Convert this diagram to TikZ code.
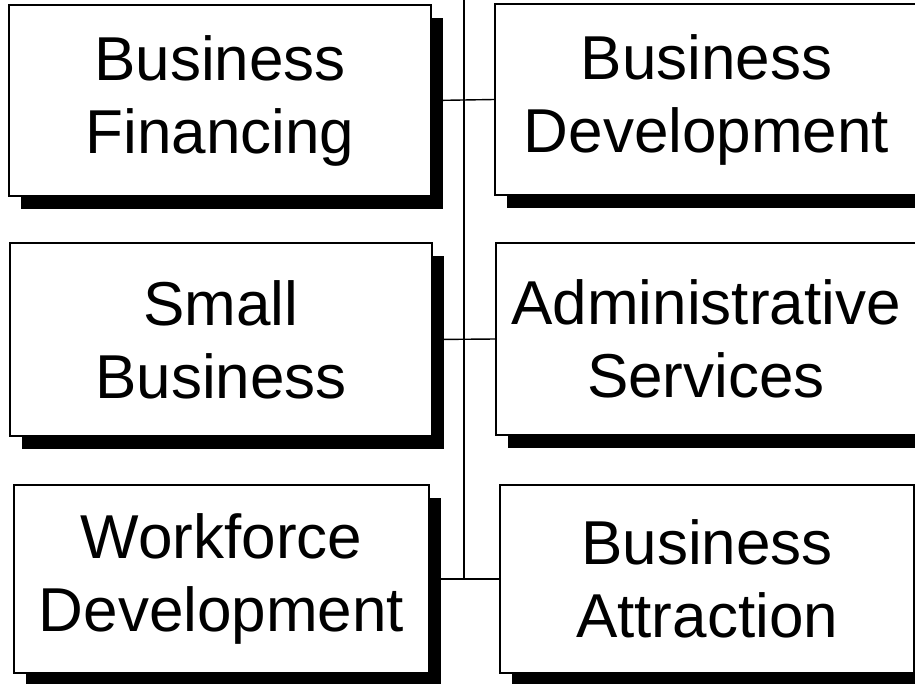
\documentclass[tikz,border=0pt]{standalone}
\usepackage{fontspec}
\setmainfont{Liberation Sans}
\usetikzlibrary{shadows}
\begin{document}
\begin{tikzpicture}[x=1pt,y=-1pt,
  unitbox/.style={draw=black, line width=1.4pt, fill=white, inner sep=0pt,
    align=center, font=\fontsize{62}{73}\selectfont,
    drop shadow={shadow xshift=12pt, shadow yshift=-13pt, fill=black, opacity=1}},
  link/.style={line width=1.4pt}]
\useasboundingbox (0,0) rectangle (915,683);
\clip (0,0) rectangle (915,683);
\fill[white] (0,0) rectangle (915,683);
\node[unitbox, minimum width=422pt, minimum height=191pt] (b1) at (220,100.5) {Business\\Financing};
\node[unitbox, minimum width=423pt, minimum height=191pt] (b2) at (706.5,99.5) {Business\\Development};
\node[unitbox, minimum width=422pt, minimum height=193pt] (b3) at (221,339.5) {Small\\Business};
\node[unitbox, minimum width=420pt, minimum height=192pt] (b4) at (706,339) {Administrative\\Services};
\node[unitbox, minimum width=415pt, minimum height=188pt] (b5) at (221.5,579) {Workforce\\Development};
\node[unitbox, minimum width=414pt, minimum height=188pt] (b6) at (707,579) {Business\\Attraction};
\coordinate (top) at (464,0);
\coordinate (j3) at (464,579);
\draw[link] (top) -- (j3);
\draw[link] (b1.east) -- (b2.west);
\draw[link] (b3.east) -- (b4.west);
\draw[link] (b5.east) -- (b6.west);
\end{tikzpicture}
\end{document}
